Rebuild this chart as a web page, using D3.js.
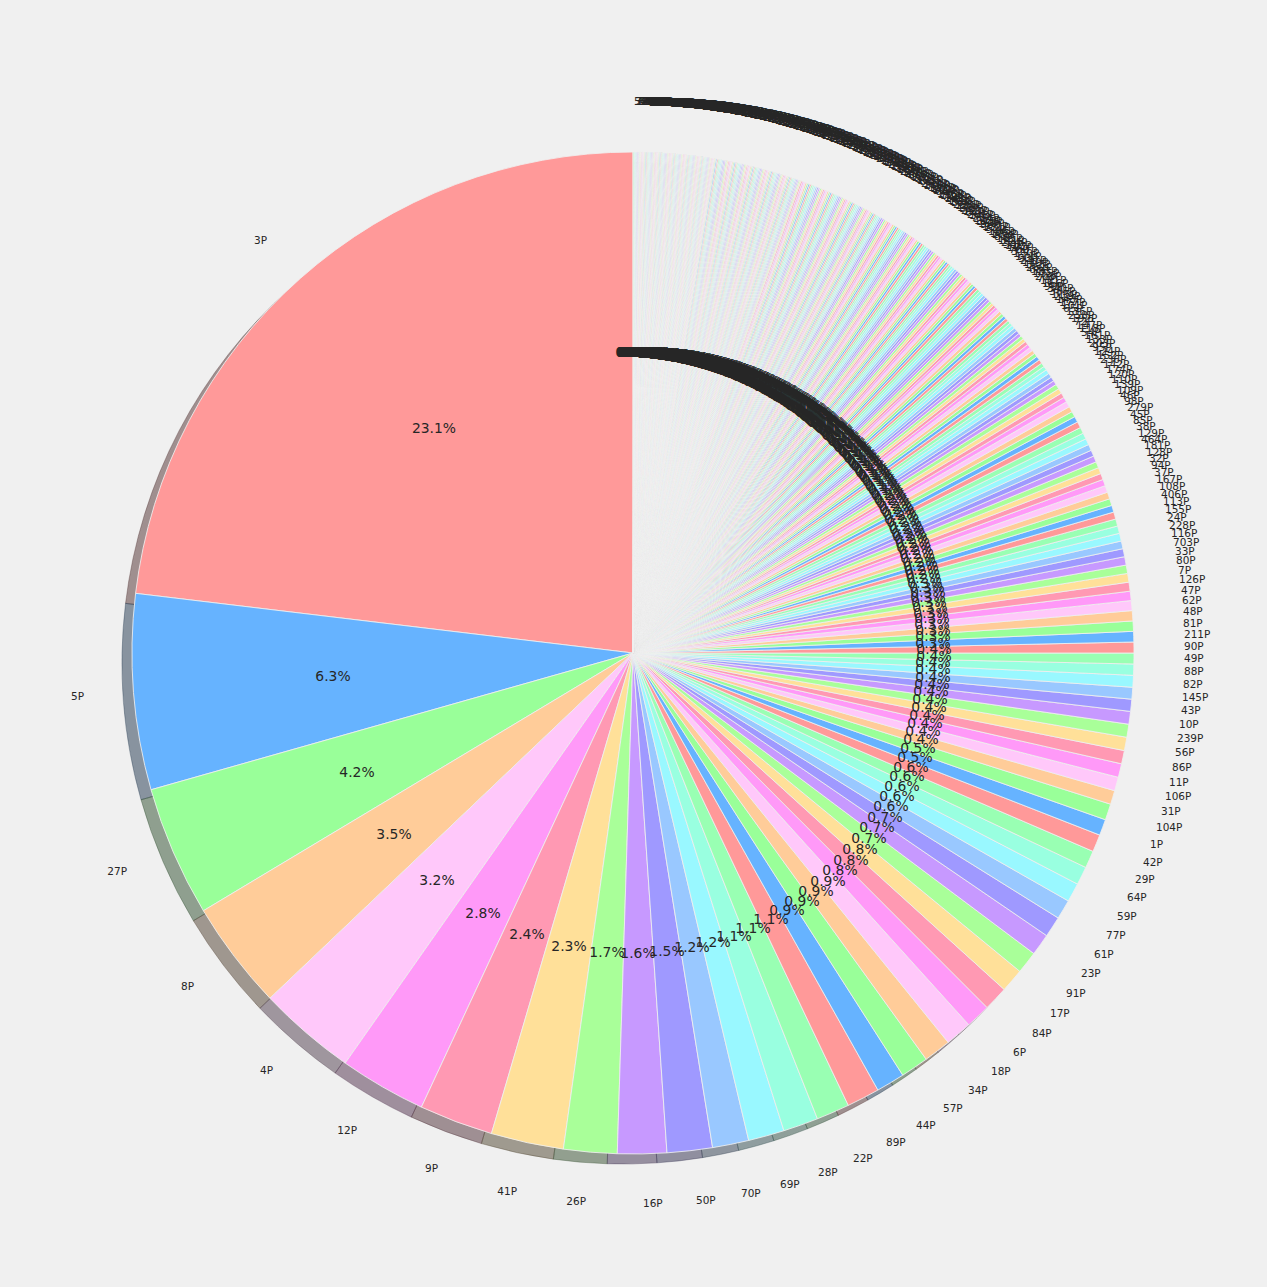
<!DOCTYPE html>
<html>
<head>
<meta charset="utf-8">
<script src="https://cdnjs.cloudflare.com/ajax/libs/d3/7.8.5/d3.min.js"></script>
<style>
  html, body { margin: 0; padding: 0; background: #f0f0f0; }
  svg { display: block; }
  text { font-family: "DejaVu Sans", sans-serif; fill: #262626; }
</style>
</head>
<body>
<div id="canvas"></div>
<script>
const headLabels = ["3P","5P","27P","8P","4P","12P","9P","41P","26P","16P","50P","70P","69P","28P","22P","89P",
  "44P","57P","34P","18P","6P","84P","17P","91P","23P","61P","77P","59P","64P","29P","42P"];
const headValues = [23.1,6.3,4.2,3.5,3.16,2.8,2.38,2.34,1.72,1.58,1.46,1.17,1.16,1.13,1.07,1.06,
  .92,.9,.88,.86,.8,.79,.76,.72,.7,.67,.63,.61,.59,.56,.56];

// right side, labels still readable
const midLabels = ["1P","104P","31P","106P","11P","86P","56P","239P","10P","43P","145P","82P","88P","49P",
  "90P","211P","81P","48P","62P","47P","126P","7P","80P","33P","703P","116P","228P","24P","155P","113P",
  "406P","108P","167P","37P","94P","32P","128P","181P","464P","129P","38P","85P"];
const midValues = [.52,.52,.449,.44,.44,.43,.43,.42,.41,.39,.38,.38,.36,.35,
  .35,.34,.33,.33,.32,.3,.29,.28,.27,.27,.26,.25,.25,.24,.23,.23,
  .22,.22,.22,.22,.21,.2,.2,.2,.2,.2,.2,.2];

// overlapping run up to the top, labels here are best guesses
const tailLabels = ["45P","279P","98P","46P","109P","139P","110P","120P","174P","142P","236P","152P","124P","95P","203P","133P","161P","54P","118P","147P","72P",
  "192P","258P","136P","65P","101P","177P","143P","219P","115P","385P","340P","99P","156P","121P","74P","208P","135P","183P","68P","262P",
  "102P","149P","247P","93P","171P","130P","311P","76P","197P","112P","58P","224P","141P","165P","83P","288P","105P","186P","52P","231P",
  "137P","96P","159P","375P","119P","214P","73P","148P","201P","67P","127P","252P","92P","178P","134P","298P","55P","163P","103P","241P",
  "189P","71P","122P","215P","146P","66P","327P","100P","170P","138P","79P","205P","114P","267P","63P","153P","195P","87P","233P","125P",
  "60P","176P","291P","97P","144P","221P","75P","160P","117P","350P","53P","184P","131P","245P","78P","199P","107P","151P","270P","412P",
  "140P","212P","438P","168P","123P","305P","517P","193P","111P","229P","150P","626P","255P","271P","334P","175P","318P","199P","207P","239P",
  "51P","162P","240P","355P","188P","132P","282P","429P","154P","216P","203P","172P","365P","137P","227P","253P","196P","163P","260P","287P",
  "111P","180P","225P","303P","295P","149P","209P","157P","250P","183P","166P","259P","335P","121P","200P","237P","276P","159P","223P","279P",
  "105P","185P","213P","244P","158P","143P","296P","255P","190P","171P","235P","297P","125P","210P","231P","328P","191P","173P","265P","269P",
  "115P","218P","207P","169P","287P","153P","198P","245P","253P","179P","164P","390P","133P","226P","283P","182P","195P","310P","109P","206P",
  "227P","272P","263P","169P","191P","238P","145P","345P","301P","123P","213P","217P","179P","256P","187P","275P","300P","139P","202P","241P",
  "161P","248P","311P","119P","187P","418P","333P","247P","564P","291P","372P","205P","449P","316P","281P","530P","267P","342P","398P","221P",
  "483P","354P","292P","612P","233P","377P","426P","308P","259P","501P","346P","273P","588P","319P","407P","243P","362P","455P","284P","539P",
  "326P","261P","394P","473P","302P","657P","338P","249P","421P","368P","285P","512P","314P","403P","277P","446P","359P","293P","575P","331P",
  "264P","432P","356P","299P","548P","323P","416P","289P","381P","467P","312P","640P","347P","274P","399P","521P"];
const tailValues = [
  .2,.2,.2,.19,.18,.18,.18,.16,.16,.16,.16,.14,.14,.14,.14,.13,.13,.13,.13,
  .12,.12,.12,.12,.12,.11,.11,.11,.11,.11,.11,.1,.1,.1,.1,.1,.1,
  .09,.09,.09,.09,.09,.09,.09,.09,.09,.09,.09,.09,.08,.08,.08,.08,.08,.08,.08,.08,.08,.08,.08,.08,
  .07,.07,.07,.07,.07,.07,.07,.07,.07,.07,.07,.07,.07,.07,.07,.07,.07,.07,.07,.07,
  .06,.06,.06,.06,.06,.06,.06,.06,.06,.06,.06,.06,.06,.06,.06,.06,.06,.06,.06,.06,.06,.06,.06,
  .05,.05,.05,.05,.05,.05,.05,.05,.05,.05,.05,.05,.05,.05,.05,.05,.05,.05,.05,.05,.05,.05,.05,.05,.05,.05,.05,.05,
  .05,.05,.05,.05,.05,.05,.05,.05,.05,.05,.05,.05,.05,.05,.05,.05,.05,.05,.05,.05,.05,.05,.05,.05,.05,.05,.05,.05,
  .04,.04,.04,.04,.04,.04,.04,.04,.04,.04,.04,.04,.04,.04,.04,.04,.04,.04,.04,.04,.04,.04,.04,.04,.04,.04,.04,.04,.04,.04,.04,.04,.04,.04,.04,
  .04,.04,.04,.04,.04,.04,.04,.04,.04,.04,.04,.04,.04,.04,.04,.04,.04,.04,.04,.04,.04,.04,.04,.04,.04,.04,.04,.04,.04,.04,.04,.04,.04,.04,.04,
  .03,.03,.03,.03,.03,.03,.03,.03,.03,.03,.03,.03,.03,.03,.03,.03,.03,.03,.03,.03,.03,.03,.03,.03,.03,.03,.03,.03,.03,.03,
  .03,.03,.03,.03,.03,.03,.03,.03,.03,.03,.03,.03,.03,.03,.03,.03,.03,.03,.03,.03,.03,.03,.03,.03,.03,.03,.03,.03,.03,.03,
  .03,.03,.03,.03,.03,.03,.03,.03,.03,.03,.03,.03,.03,.03,.03,.03,.03,.03,.03,.03,.03,.03,.03,.03,.03,.03,.03,.03
];

const colors = ["#ff9999","#66b3ff","#99ff99","#ffcc99","#ffc8fa","#ff99f8","#ff99b3","#ffe099",
  "#a9ff99","#c799ff","#9f99ff","#99c8ff","#99f8ff","#99ffe0","#99ffb3"];

const labels = headLabels.concat(midLabels, tailLabels);
const values = headValues.concat(midValues, tailValues);
const total = d3.sum(values);

const width = 1267;
const height = 1287;
const cx = 633;
const cy = 653;
const radius = 501;

const svg = d3.select("#canvas").append("svg")
  .attr("width", width)
  .attr("height", height);

svg.append("rect").attr("width", width).attr("height", height).attr("fill", "#f0f0f0");

const color = d3.scaleOrdinal().domain(d3.range(colors.length)).range(colors);

// counter clockwise from 12 o'clock, no sorting
const pie = d3.pie().sort(null).startAngle(0).endAngle(-2 * Math.PI);
const arcs = pie(values);
const arc = d3.arc().innerRadius(0).outerRadius(radius);
const pctArc = d3.arc().innerRadius(radius * 0.6).outerRadius(radius * 0.6);
const labelArc = d3.arc().innerRadius(radius * 1.1).outerRadius(radius * 1.1);

const g = svg.append("g").attr("transform", `translate(${cx},${cy})`);

// drop shadow: each wedge darkened to 30%, half transparent, shifted down left
g.append("g")
  .attr("transform", `translate(${-radius * 0.02},${radius * 0.02})`)
  .selectAll("path")
  .data(arcs)
  .enter()
  .append("path")
  .attr("d", arc)
  .each(function (d, i) {
    const c = d3.rgb(color(i % colors.length));
    const dark = d3.rgb(c.r * 0.3, c.g * 0.3, c.b * 0.3);
    d3.select(this)
      .attr("fill", dark)
      .attr("fill-opacity", 0.5)
      .attr("stroke", dark)
      .attr("stroke-opacity", 0.5)
      .attr("stroke-width", 0.7);
  });

g.append("g")
  .selectAll("path")
  .data(arcs)
  .enter()
  .append("path")
  .attr("d", arc)
  .attr("fill", (d, i) => color(i % colors.length))
  .attr("stroke", "#f0f0f0")
  .attr("stroke-width", 0.85);

// opacity just under 1 keeps the text antialiasing grey
const texts = g.append("g").style("opacity", 0.999);

// outer names, anchored on the side of the pie they are on. whole pixels, like the original
texts.append("g")
  .selectAll("text")
  .data(arcs)
  .enter()
  .append("text")
  .attr("x", (d) => Math.round(labelArc.centroid(d)[0]))
  .attr("y", (d) => Math.round(labelArc.centroid(d)[1] + 3.4))
  .attr("font-size", 10.5)
  .attr("text-anchor", (d) => (labelArc.centroid(d)[0] > 0 ? "start" : "end"))
  .text((d, i) => labels[i]);

texts.append("g")
  .selectAll("text")
  .data(arcs)
  .enter()
  .append("text")
  .attr("x", (d) => Math.round(pctArc.centroid(d)[0]))
  .attr("y", (d) => Math.round(pctArc.centroid(d)[1] + 4.4))
  .attr("font-size", 13.9)
  .attr("text-anchor", "middle")
  .text((d) => ((d.value / total) * 100).toFixed(1) + "%");
</script>
</body>
</html>
